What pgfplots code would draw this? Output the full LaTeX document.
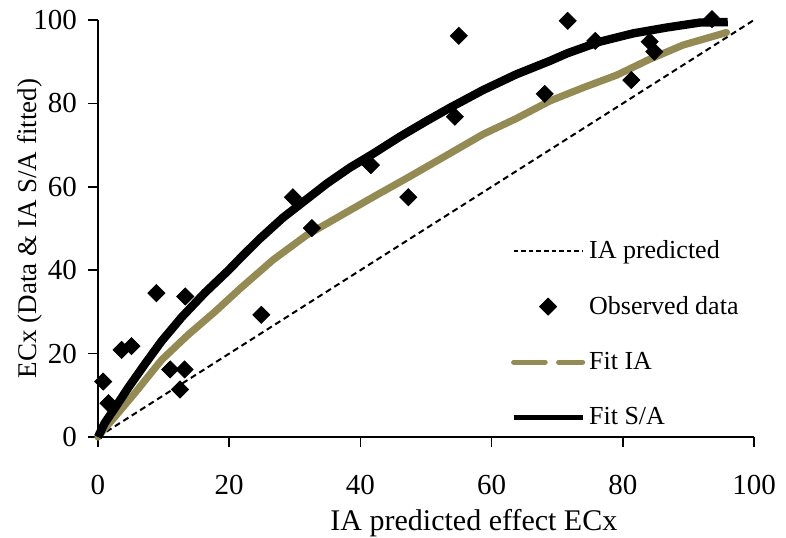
\documentclass[border=0pt]{standalone}
\usepackage{fontspec}
\setmainfont{Liberation Serif}
\usepackage{pgfplots}
\pgfplotsset{compat=1.18}
\definecolor{olivefit}{HTML}{948A54}
\begin{document}
\begin{tikzpicture}
\begin{axis}[
 name=ax,
 scale only axis, width=328pt, height=208.5pt,
 xmin=0, xmax=100, ymin=0, ymax=100,
 axis lines=left, axis line style={-, line width=0.8pt},
 tick align=outside, major tick length=5pt,
 tick style={line width=0.8pt, black},
 xtick={0,20,...,100}, ytick={0,20,...,100},
 /pgf/number format/assume math mode=true,
 ticklabel style={font=\fontsize{14.5}{17}\selectfont},
 xticklabel style={yshift=-10.7pt},
 yticklabel style={xshift=-2pt},
 xlabel={IA predicted effect ECx},
 ylabel={ECx (Data \& IA S/A fitted)},
 xlabel style={at={([yshift=-46.5pt]axis description cs:0.573,0)}, anchor=base, font=\fontsize{15}{18}\selectfont},
 ylabel style={at={([xshift=-30.5pt]axis description cs:0,0.5)}, anchor=base, font=\fontsize{13.5}{16}\selectfont},
 clip=false,
 legend style={draw=none, fill=none, at={(axis cs:62.0,49.2)}, anchor=north west,
   font=\fontsize{13}{15}\selectfont, row sep=13.4pt},
 legend cell align=left,
]
% IA predicted (1:1 line)
\addplot[black, line width=1pt, dash pattern=on 3pt off 2pt,
  legend image code/.code={\draw[black, line width=1pt, dash pattern=on 2.3pt off 1.5pt] (0pt,0pt) -- (34.5pt,0pt);}]
  coordinates {(0,0) (100,100)};
\addlegendentry{IA predicted}
% Observed data
\addplot[only marks, mark=square*, mark size=3pt, mark options={rotate=45, fill=black, draw=black},
  legend image code/.code={\draw[mark=square*, mark size=3pt, mark options={rotate=45, fill=black, draw=black}] plot coordinates {(17.25pt,0pt)};}]
  coordinates {
  (0.8,13.3) (1.6,8.1) (3.6,20.9) (5.1,21.8) (8.9,34.5) (11,16.2) (12.5,11.4)
  (13.2,16.2) (13.3,33.7) (24.9,29.3) (29.7,57.5) (32.6,50.1) (41.6,65.2)
  (47.3,57.5) (54.4,76.8) (55,96.2) (68.1,82.3) (71.6,99.8) (75.8,95.0)
  (81.3,85.6) (84.1,94.8) (84.8,92.4) (93.6,100.2)
  };
\addlegendentry{Observed data}
% Fit IA
\addplot[olivefit, line width=3.6pt, line join=round, line cap=round,
  legend image code/.code={\draw[olivefit, line width=2.5pt, dash pattern=on 15.8pt off 6.7pt] (0pt,0pt) -- (34.5pt,0pt);}]
  coordinates {
  (0,0) (1,2) (2.6,4.9) (5.6,10.5) (9.7,18.5) (13.8,24.6) (17.8,30) (21.6,35.5)
  (26.7,42.5) (31.8,48.4) (36.9,53) (42,57.6) (47,62) (52.1,66.6) (58.7,72.6)
  (63.8,76.4) (68.9,80.6) (74,83.8) (79.1,86.8) (84.1,90.6) (89.2,94) (95.8,97)
  };
\addlegendentry{Fit IA}
% Fit S/A
\addplot[black, line width=4.2pt, line join=round,
  legend image code/.code={\draw[black, line width=2.5pt] (0pt,0pt) -- (34.5pt,0pt);}]
  coordinates {
  (0,0) (1,3.3) (2.6,7) (4.6,11.8) (7.2,17.6) (9.7,23) (12.8,28.8) (16.3,34.6)
  (19.9,40) (22,43.4) (24.7,47.6) (28.2,52.6) (31.8,57) (34.9,60.8) (38.4,64.6)
  (42,68) (46,72) (50.1,75.8) (53.7,79) (58.7,83.2) (63.8,87) (68.9,90.2)
  (71.5,92) (76.5,94.8) (81.6,96.8) (86.7,98.2) (91.8,99.4) (96,99.5)
  };
\addlegendentry{Fit S/A}
\end{axis}
\pgfresetboundingbox
\path ([xshift=-49pt,yshift=-50pt]ax.south west) rectangle ([xshift=16pt,yshift=10pt]ax.north east);
\end{tikzpicture}
\end{document}
